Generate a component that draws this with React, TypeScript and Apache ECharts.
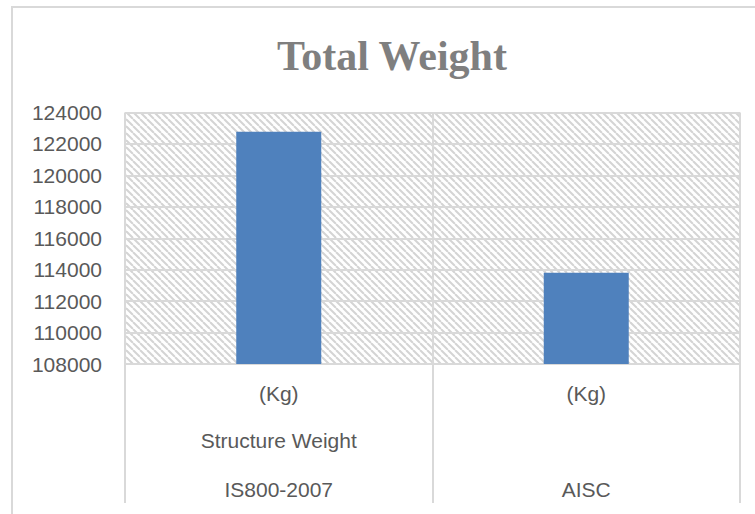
import React, { useEffect, useRef } from 'react';
import * as echarts from 'echarts';

// Data
const categories = ['IS800-2007', 'AISC'];
const groupLabels = ['Structure Weight', ''];
const unitLabels = ['(Kg)', '(Kg)'];
const weights = [122780, 113810];
const yMin = 108000;
const yMax = 124000;
const yStep = 2000;

const LABEL_FONT = '"Liberation Sans", Arial, sans-serif';

function makeHatch(): HTMLCanvasElement {
  const size = 7;
  const c = document.createElement('canvas');
  c.width = size;
  c.height = size;
  const ctx = c.getContext('2d')!;
  ctx.fillStyle = '#ffffff';
  ctx.fillRect(0, 0, size, size);
  ctx.strokeStyle = '#d4d4d4';
  ctx.lineWidth = 2;
  for (const off of [-size, 0, size]) {
    ctx.beginPath();
    ctx.moveTo(off, 0);
    ctx.lineTo(off + size, size);
    ctx.stroke();
  }
  return c;
}

export default function App() {
  const ref = useRef<HTMLDivElement>(null);
  useEffect(() => {
    if (!ref.current) return;
    const chart = echarts.init(ref.current, undefined, { renderer: 'svg' });
    const hatch = makeHatch();
    const gridLine = { color: '#d9d9d9', width: 2 };
    const labelBase = { fontFamily: LABEL_FONT, fontSize: 21, color: '#595959' };
    chart.setOption({
      animation: false,
      backgroundColor: '#ffffff',
      title: {
        text: 'Total Weight',
        left: 392,
        top: 35,
        textAlign: 'center',
        padding: 0,
        textStyle: {
          fontFamily: '"Liberation Serif", "Times New Roman", serif',
          fontWeight: 'bold',
          fontSize: 42,
          color: '#7f7f7f',
        },
      },
      graphic: [
        {
          type: 'rect',
          silent: true,
          z: -10,
          shape: { x: 12, y: 7, width: 800, height: 600 },
          style: { fill: 'none', stroke: '#d9d9d9', lineWidth: 2 },
        },
      ],
      grid: {
        left: 125,
        right: 15,
        top: 112.5,
        bottom: 150,
        containLabel: false,
        show: true,
        borderWidth: 0,
        backgroundColor: { image: hatch, repeat: 'repeat', imageWidth: 7, imageHeight: 7 },
      },
      xAxis: [
        {
          type: 'category',
          data: categories,
          position: 'bottom',
          axisLine: { show: true, lineStyle: gridLine },
          axisTick: { show: true, length: 139, alignWithLabel: false, interval: 0, lineStyle: gridLine },
          splitLine: { show: true, interval: 0, lineStyle: gridLine },
          axisLabel: { ...labelBase, interval: 0, margin: 115 },
        },
        {
          type: 'category',
          data: categories,
          position: 'bottom',
          axisLine: { show: false },
          axisTick: { show: false },
          splitLine: { show: false },
          axisLabel: { ...labelBase, interval: 0, margin: 66, formatter: (_v: string, i: number) => groupLabels[i] },
        },
        {
          type: 'category',
          data: categories,
          position: 'bottom',
          axisLine: { show: false },
          axisTick: { show: false },
          splitLine: { show: false },
          axisLabel: { ...labelBase, interval: 0, margin: 19, formatter: (_v: string, i: number) => unitLabels[i] },
        },
      ],
      yAxis: {
        type: 'value',
        min: yMin,
        max: yMax,
        interval: yStep,
        axisLine: { show: false },
        axisTick: { show: false },
        splitLine: { show: true, lineStyle: gridLine },
        axisLabel: { ...labelBase, margin: 23, formatter: (v: number) => String(v) },
      },
      series: [
        {
          type: 'bar',
          xAxisIndex: 0,
          yAxisIndex: 0,
          data: weights,
          barWidth: 85,
          itemStyle: { color: '#4f81bd' },
        },
      ],
    });
    return () => chart.dispose();
  }, []);
  return <div ref={ref} style={{ position: 'absolute', left: 0, top: 0, width: 755, height: 514 }} />;
}
